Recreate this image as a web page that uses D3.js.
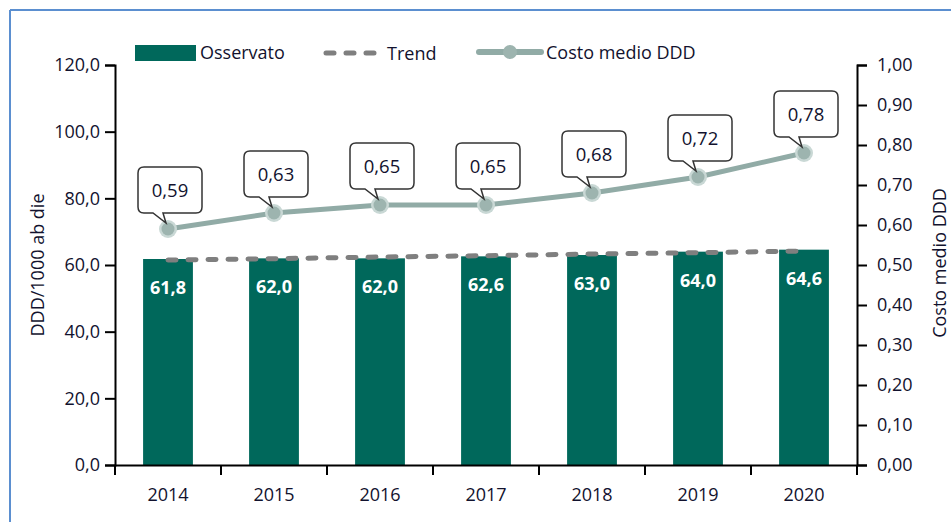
<!DOCTYPE html>
<html>
<head>
<meta charset="utf-8">
<script src="https://cdn.jsdelivr.net/npm/d3@7"></script>
<style>
  body { margin: 0; background: #fff; }
  svg text { font-family: "Open Sans", sans-serif; }
</style>
</head>
<body>
<svg id="chart" width="951" height="522"></svg>
<script>
// data
const years = ["2014", "2015", "2016", "2017", "2018", "2019", "2020"];
const osservato = [61.8, 62.0, 62.0, 62.6, 63.0, 64.0, 64.6];
const trend = [61.5, 61.9, 62.4, 62.8, 63.3, 63.7, 64.2];
const costoMedio = [0.59, 0.63, 0.65, 0.65, 0.68, 0.72, 0.78];
const leftTicks = [0, 20, 40, 60, 80, 100, 120];
const rightTicks = [0, 0.1, 0.2, 0.3, 0.4, 0.5, 0.6, 0.7, 0.8, 0.9, 1.0];

const barColor = "#00685b";
const lineColor = "#91aba6";
const textColor = "#12122e";

const it = d3.formatLocale({ decimal: ",", thousands: ".", grouping: [3], currency: ["€", ""] });
const f1 = it.format(".1f");
const f2 = it.format(".2f");

const svg = d3.select("#chart");

// outer frame (only top and left visible)
svg.append("line").attr("x1", 10).attr("y1", 10).attr("x2", 951).attr("y2", 10)
  .attr("stroke", "#5b8fd0").attr("stroke-width", 2);
svg.append("line").attr("x1", 10).attr("y1", 10).attr("x2", 10).attr("y2", 522)
  .attr("stroke", "#5b8fd0").attr("stroke-width", 2);

const x = d3.scaleBand().domain(years).range([115, 857]).padding(0);
const yL = d3.scaleLinear().domain([0, 120]).range([465, 65]);
const yR = d3.scaleLinear().domain([0, 1]).range([465, 65]);
const barW = x.bandwidth() * 0.47;
const cx = (d) => x(d) + x.bandwidth() / 2;

// bars
svg.selectAll(".bar").data(years).join("rect")
  .attr("class", "bar")
  .attr("x", (d) => cx(d) - barW / 2)
  .attr("y", (d, i) => yL(osservato[i]))
  .attr("width", barW)
  .attr("height", (d, i) => yL(0) - yL(osservato[i]))
  .attr("fill", barColor);

svg.selectAll(".barLabel").data(years).join("text")
  .attr("class", "barLabel")
  .attr("x", (d) => cx(d))
  .attr("y", (d, i) => yL(osservato[i]) + 35)
  .attr("text-anchor", "middle")
  .attr("fill", "#fff")
  .attr("font-weight", "bold")
  .attr("font-size", 18)
  .text((d, i) => f1(osservato[i]));

// trend
const trendLine = d3.line().x((d, i) => cx(years[i])).y((d) => yL(d));
svg.append("path").datum(trend)
  .attr("d", trendLine)
  .attr("fill", "none")
  .attr("stroke", "#7f7f7f")
  .attr("stroke-width", 5)
  .attr("stroke-linecap", "round")
  .attr("stroke-dasharray", "8,12");

// costo medio line
const costLine = d3.line().x((d, i) => cx(years[i])).y((d) => yR(d));
svg.append("path").datum(costoMedio)
  .attr("d", costLine)
  .attr("fill", "none")
  .attr("stroke", lineColor)
  .attr("stroke-width", 5);

svg.selectAll(".halo").data(costoMedio).join("circle")
  .attr("class", "halo")
  .attr("cx", (d, i) => cx(years[i]))
  .attr("cy", (d) => yR(d))
  .attr("r", 9)
  .attr("fill", "#c9d8d5");
svg.selectAll(".dot").data(costoMedio).join("circle")
  .attr("class", "dot")
  .attr("cx", (d, i) => cx(years[i]))
  .attr("cy", (d) => yR(d))
  .attr("r", 6.5)
  .attr("fill", "#9db4af");

// callouts
const bw = 64, bh = 46, r = 6;
function calloutPath(px, py) {
  const left = px - 30, right = left + bw;
  const bottom = py - 16, top = bottom - bh;
  const t1 = px - 15, t2 = px - 5;
  return `M${left + r},${top} H${right - r} Q${right},${top} ${right},${top + r}` +
    ` V${bottom - r} Q${right},${bottom} ${right - r},${bottom} H${t2}` +
    ` L${px - 2},${py - 6} L${t1},${bottom} H${left + r}` +
    ` Q${left},${bottom} ${left},${bottom - r} V${top + r} Q${left},${top} ${left + r},${top} Z`;
}
const callouts = svg.selectAll(".callout").data(costoMedio).join("g").attr("class", "callout");
callouts.append("path")
  .attr("d", (d, i) => calloutPath(cx(years[i]), yR(d)))
  .attr("fill", "#fff")
  .attr("stroke", "#333")
  .attr("stroke-width", 1.5);
callouts.append("text")
  .attr("x", (d, i) => cx(years[i]) + 2)
  .attr("y", (d) => yR(d) - 16 - bh + 30)
  .attr("text-anchor", "middle")
  .attr("font-size", 18.5)
  .attr("fill", textColor)
  .text((d) => f2(d));

// axes
const axL = svg.append("g").attr("transform", "translate(115,0)")
  .call(d3.axisLeft(yL).tickValues(leftTicks).tickFormat(f1).tickSizeOuter(0).tickSize(10).tickPadding(5));
const axR = svg.append("g").attr("transform", "translate(857,0)")
  .call(d3.axisRight(yR).tickValues(rightTicks).tickFormat(f2).tickSizeOuter(0).tickSize(10).tickPadding(10));
const axB = svg.append("g").attr("transform", "translate(0,465)")
  .call(d3.axisBottom(x).tickSize(0).tickPadding(23).tickSizeOuter(0));

[axL, axR, axB].forEach((g) => {
  g.selectAll("path.domain").attr("stroke", "#000").attr("stroke-width", 2);
  g.selectAll(".tick line").attr("stroke", "#000").attr("stroke-width", 2);
  g.selectAll("text").attr("font-size", 18).attr("fill", textColor)
    .attr("font-family", "'Open Sans', sans-serif");
});

// category boundary ticks on the x axis
const bounds = years.map((d) => x(d)).concat([x.range()[1]]);
svg.selectAll(".xtick").data(bounds).join("line")
  .attr("class", "xtick")
  .attr("x1", (d) => d).attr("x2", (d) => d)
  .attr("y1", 465).attr("y2", 475)
  .attr("stroke", "#000").attr("stroke-width", 2);

// axis titles
svg.append("text")
  .attr("transform", "translate(44,265) rotate(-90)")
  .attr("text-anchor", "middle")
  .attr("font-size", 18)
  .attr("fill", textColor)
  .text("DDD/1000 ab die");
svg.append("text")
  .attr("transform", "translate(946,263) rotate(-90)")
  .attr("text-anchor", "middle")
  .attr("font-size", 18)
  .attr("fill", textColor)
  .text("Costo medio DDD");

// legend
const legend = svg.append("g");
legend.append("rect").attr("x", 135).attr("y", 45).attr("width", 61).attr("height", 16).attr("fill", barColor);
legend.append("text").attr("x", 200).attr("y", 59).attr("font-size", 18).attr("fill", textColor).text("Osservato");
legend.append("line").attr("x1", 326).attr("x2", 376).attr("y1", 53).attr("y2", 53)
  .attr("stroke", "#7f7f7f").attr("stroke-width", 5).attr("stroke-linecap", "round").attr("stroke-dasharray", "8,12");
legend.append("text").attr("x", 387).attr("y", 60).attr("font-size", 18).attr("fill", textColor).text("Trend");
legend.append("line").attr("x1", 479).attr("x2", 541).attr("y1", 52).attr("y2", 52)
  .attr("stroke", lineColor).attr("stroke-width", 6).attr("stroke-linecap", "round");
legend.append("circle").attr("cx", 510).attr("cy", 52).attr("r", 7).attr("fill", "#9db4af");
legend.append("text").attr("x", 546).attr("y", 59).attr("font-size", 18).attr("fill", textColor).text("Costo medio DDD");
</script>
</body>
</html>
